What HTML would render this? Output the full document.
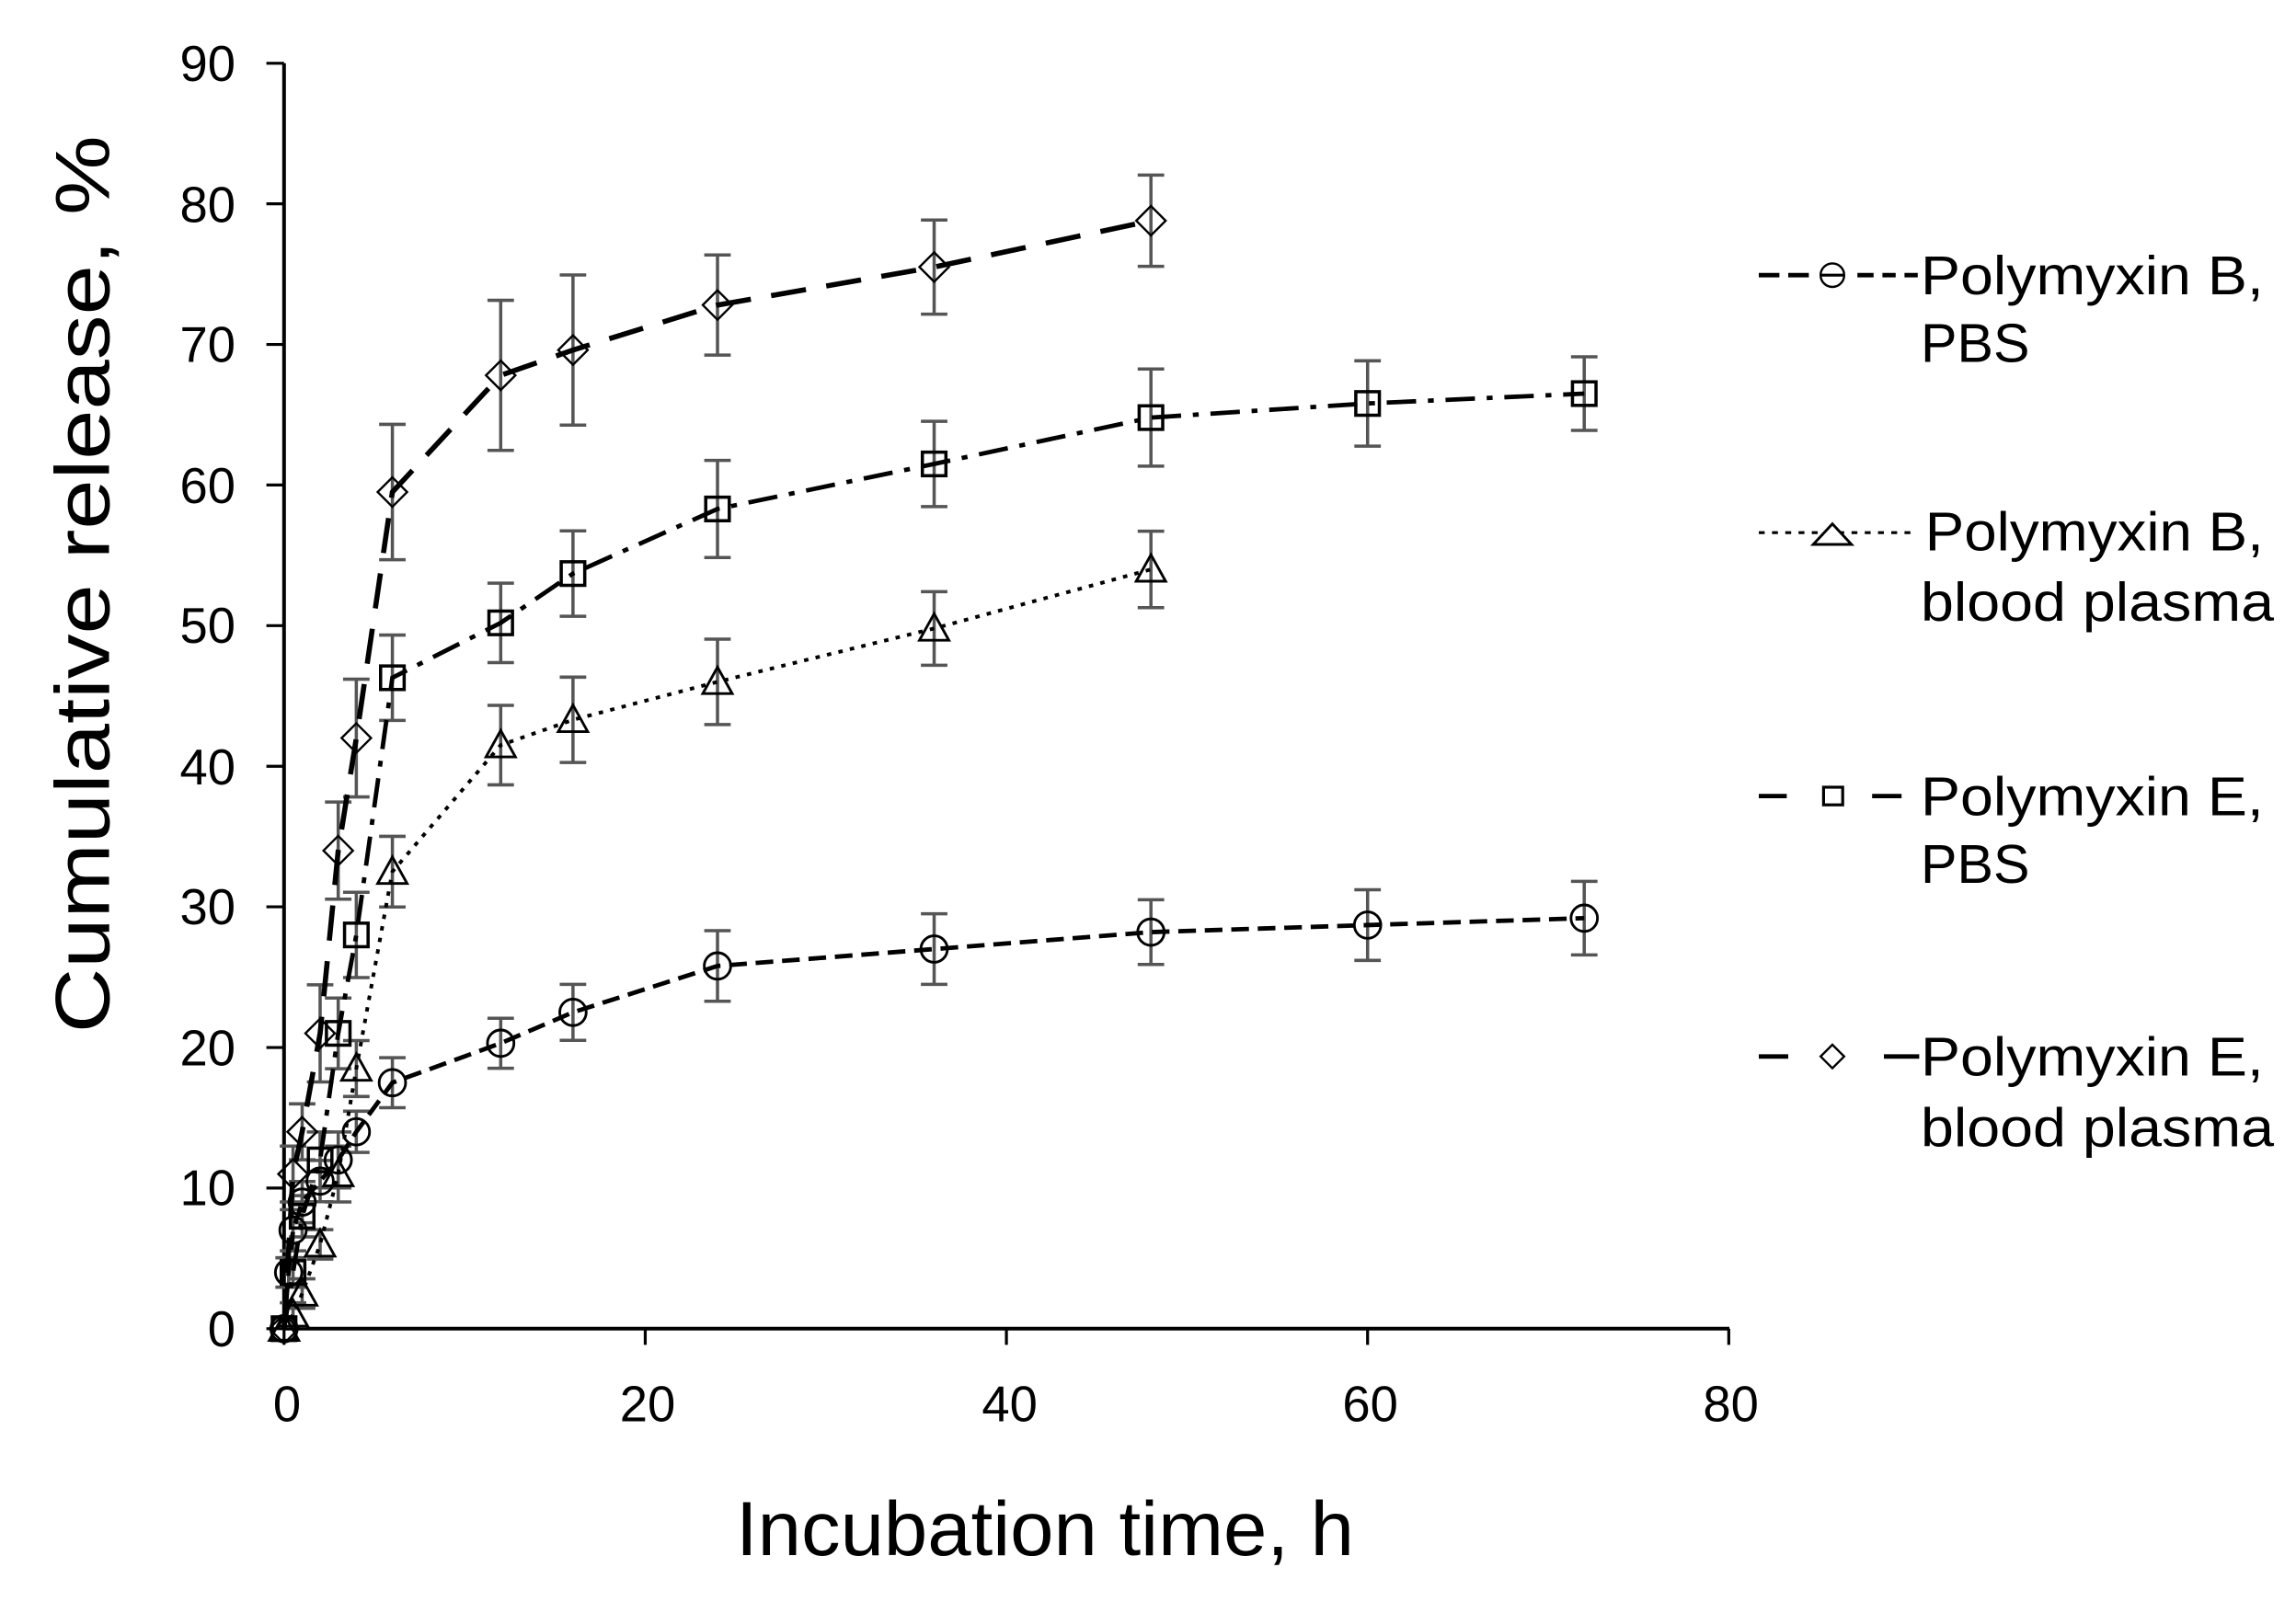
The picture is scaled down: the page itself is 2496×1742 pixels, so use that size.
<!DOCTYPE html>
<html><head><meta charset="utf-8"><style>html,body{margin:0;padding:0;background:#fff}svg{display:block}</style></head>
<body>
<svg width="2496" height="1742" viewBox="0 0 1560 1088.75" xmlns="http://www.w3.org/2000/svg" xmlns:xlink="http://www.w3.org/1999/xlink" font-family="Liberation Sans, Arial, sans-serif">
<defs>
<circle id="mc" r="9" fill="none" stroke="#000" stroke-width="1.8"/>
<path id="mt" d="M-10,8L0,-10L10,8Z" fill="none" stroke="#000" stroke-width="1.8"/>
<rect id="ms" x="-8" y="-8" width="16" height="16" fill="none" stroke="#000" stroke-width="2.2"/>
<path id="md" d="M0,-10L10,0L0,10L-10,0Z" fill="none" stroke="#000" stroke-width="1.5"/>
</defs>
<rect width="1560" height="1089" fill="#fff"/>
<g stroke="#000" stroke-width="2.5" fill="none">
<line x1="193" y1="43" x2="193" y2="904"/>
<line x1="192" y1="903" x2="1175" y2="903"/>
</g>
<g stroke="#000" stroke-width="2">
<line x1="181" y1="903" x2="193" y2="903"/><line x1="181" y1="807.4" x2="193" y2="807.4"/><line x1="181" y1="711.9" x2="193" y2="711.9"/><line x1="181" y1="616.3" x2="193" y2="616.3"/><line x1="181" y1="520.8" x2="193" y2="520.8"/><line x1="181" y1="425.2" x2="193" y2="425.2"/><line x1="181" y1="329.6" x2="193" y2="329.6"/><line x1="181" y1="234.1" x2="193" y2="234.1"/><line x1="181" y1="138.5" x2="193" y2="138.5"/><line x1="181" y1="43" x2="193" y2="43"/>
<line x1="193" y1="903" x2="193" y2="914"/><line x1="438.4" y1="903" x2="438.4" y2="914"/><line x1="683.8" y1="903" x2="683.8" y2="914"/><line x1="929.2" y1="903" x2="929.2" y2="914"/><line x1="1174.6" y1="903" x2="1174.6" y2="914"/>
</g>
<g font-size="34" text-anchor="end" fill="#000">
<text x="160" y="915">0</text><text x="160" y="819">10</text><text x="160" y="724">20</text><text x="160" y="628">30</text><text x="160" y="533">40</text><text x="160" y="437">50</text><text x="160" y="342">60</text><text x="160" y="246">70</text><text x="160" y="151">80</text><text x="160" y="55">90</text>
</g>
<g font-size="34" text-anchor="middle">
<text x="195" y="966">0</text><text x="440" y="966">20</text><text x="686" y="966">40</text><text x="931" y="966">60</text><text x="1176" y="966">80</text>
</g>
<text x="500" y="1057" font-size="52" textLength="420" lengthAdjust="spacingAndGlyphs">Incubation time, h</text>
<text transform="translate(74,702) rotate(-90)" font-size="52" textLength="610" lengthAdjust="spacingAndGlyphs">Cumulative release, %</text>

<g stroke="#555" stroke-width="2.2" fill="none">
<path d="M196.1,854.8V874.8M187.1,854.8h18M187.1,874.8h18M199.1,822.1V850.1M190.1,822.1h18M190.1,850.1h18M205.3,803V831M196.3,803h18M196.3,831h18M217.5,788.7V816.7M208.5,788.7h18M208.5,816.7h18M229.8,769.3V807.3M220.8,769.3h18M220.8,807.3h18M242.1,755.2V783.2M233.1,755.2h18M233.1,783.2h18M266.6,718.8V752.8M257.6,718.8h18M257.6,752.8h18M340.2,692V726M331.2,692h18M331.2,726h18M389.3,669V707M380.3,669h18M380.3,707h18M487.5,632.5V680.5M478.5,632.5h18M478.5,680.5h18M634.7,621V669M625.7,621h18M625.7,669h18M782,611.5V655.5M773,611.5h18M773,655.5h18M929.2,604.7V652.7M920.2,604.7h18M920.2,652.7h18M1076.4,599V649M1067.4,599h18M1067.4,649h18"/>
<path d="M199.1,885.4V901.4M190.1,885.4h18M190.1,901.4h18M205.3,869.1V889.1M196.3,869.1h18M196.3,889.1h18M217.5,835.7V855.7M208.5,835.7h18M208.5,855.7h18M229.8,778.9V816.9M220.8,778.9h18M220.8,816.9h18M242.1,707.2V745.2M233.1,707.2h18M233.1,745.2h18M266.6,568.4V616.4M257.6,568.4h18M257.6,616.4h18M340.2,479.4V533.4M331.2,479.4h18M331.2,533.4h18M389.3,460.2V518.2M380.3,460.2h18M380.3,518.2h18M487.5,434.4V492.4M478.5,434.4h18M478.5,492.4h18M634.7,402.1V452.1M625.7,402.1h18M625.7,452.1h18M782,361V413M773,361h18M773,413h18"/>
<path d="M199.1,854.8V874.8M190.1,854.8h18M190.1,874.8h18M205.3,812.6V840.6M196.3,812.6h18M196.3,840.6h18M217.5,769.3V807.3M208.5,769.3h18M208.5,807.3h18M229.8,678.3V726.3M220.8,678.3h18M220.8,726.3h18M242.1,606.4V664.4M233.1,606.4h18M233.1,664.4h18M266.6,431.6V489.6M257.6,431.6h18M257.6,489.6h18M340.2,396.3V450.3M331.2,396.3h18M331.2,450.3h18M389.3,360.8V418.8M380.3,360.8h18M380.3,418.8h18M487.5,312.9V378.9M478.5,312.9h18M478.5,378.9h18M634.7,286.3V344.3M625.7,286.3h18M625.7,344.3h18M782,250.8V316.8M773,250.8h18M773,316.8h18M929.2,245.2V303.2M920.2,245.2h18M920.2,303.2h18M1076.4,242.5V292.5M1067.4,242.5h18M1067.4,292.5h18"/>
<path d="M199.1,778.9V816.9M190.1,778.9h18M190.1,816.9h18M205.3,750.2V788.2M196.3,750.2h18M196.3,788.2h18M217.5,669.3V735.3M208.5,669.3h18M208.5,735.3h18M229.8,545.1V611.1M220.8,545.1h18M220.8,611.1h18M242.1,461.6V541.6M233.1,461.6h18M233.1,541.6h18M266.6,288.4V380.4M257.6,288.4h18M257.6,380.4h18M340.2,204.1V306.1M331.2,204.1h18M331.2,306.1h18M389.3,186.9V288.9M380.3,186.9h18M380.3,288.9h18M487.5,173.3V241.3M478.5,173.3h18M478.5,241.3h18M634.7,149.5V213.5M625.7,149.5h18M625.7,213.5h18M782,119V181M773,119h18M773,181h18"/>
</g>

<g fill="none" stroke="#000">
<polyline stroke-width="3" stroke-dasharray="12,6" points="193,903 196.1,864.8 199.1,836.1 205.3,817 217.5,802.7 229.8,788.3 242.1,769.2 266.6,735.8 340.2,709 389.3,688 487.5,656.5 634.7,645 782,633.5 929.2,628.7 1076.4,624"/>
<polyline stroke-width="2.5" stroke-dasharray="3,5" points="193,903 199.1,893.4 205.3,879.1 217.5,845.7 229.8,797.9 242.1,726.2 266.6,592.4 340.2,506.4 389.3,489.2 487.5,463.4 634.7,427.1 782,387"/>
<polyline stroke-width="3" stroke-dasharray="20,8,4,8" points="193,903 199.1,864.8 205.3,826.6 217.5,788.3 229.8,702.3 242.1,635.4 266.6,460.6 340.2,423.3 389.3,389.8 487.5,345.9 634.7,315.3 782,283.8 929.2,274.2 1076.4,267.5"/>
<polyline stroke-width="3.5" stroke-dasharray="24,14" points="193,903 199.1,797.9 205.3,769.2 217.5,702.3 229.8,578.1 242.1,501.6 266.6,334.4 340.2,255.1 389.3,237.9 487.5,207.3 634.7,181.5 782,150"/>
</g>

<use xlink:href="#mc" x="193" y="903"/><use xlink:href="#mc" x="196.1" y="864.8"/><use xlink:href="#mc" x="199.1" y="836.1"/><use xlink:href="#mc" x="205.3" y="817"/><use xlink:href="#mc" x="217.5" y="802.7"/><use xlink:href="#mc" x="229.8" y="788.3"/><use xlink:href="#mc" x="242.1" y="769.2"/><use xlink:href="#mc" x="266.6" y="735.8"/><use xlink:href="#mc" x="340.2" y="709"/><use xlink:href="#mc" x="389.3" y="688"/><use xlink:href="#mc" x="487.5" y="656.5"/><use xlink:href="#mc" x="634.7" y="645"/><use xlink:href="#mc" x="782" y="633.5"/><use xlink:href="#mc" x="929.2" y="628.7"/><use xlink:href="#mc" x="1076.4" y="624"/>
<use xlink:href="#mt" x="193" y="903"/><use xlink:href="#mt" x="199.1" y="893.4"/><use xlink:href="#mt" x="205.3" y="879.1"/><use xlink:href="#mt" x="217.5" y="845.7"/><use xlink:href="#mt" x="229.8" y="797.9"/><use xlink:href="#mt" x="242.1" y="726.2"/><use xlink:href="#mt" x="266.6" y="592.4"/><use xlink:href="#mt" x="340.2" y="506.4"/><use xlink:href="#mt" x="389.3" y="489.2"/><use xlink:href="#mt" x="487.5" y="463.4"/><use xlink:href="#mt" x="634.7" y="427.1"/><use xlink:href="#mt" x="782" y="387"/>
<use xlink:href="#ms" x="193" y="903"/><use xlink:href="#ms" x="199.1" y="864.8"/><use xlink:href="#ms" x="205.3" y="826.6"/><use xlink:href="#ms" x="217.5" y="788.3"/><use xlink:href="#ms" x="229.8" y="702.3"/><use xlink:href="#ms" x="242.1" y="635.4"/><use xlink:href="#ms" x="266.6" y="460.6"/><use xlink:href="#ms" x="340.2" y="423.3"/><use xlink:href="#ms" x="389.3" y="389.8"/><use xlink:href="#ms" x="487.5" y="345.9"/><use xlink:href="#ms" x="634.7" y="315.3"/><use xlink:href="#ms" x="782" y="283.8"/><use xlink:href="#ms" x="929.2" y="274.2"/><use xlink:href="#ms" x="1076.4" y="267.5"/>
<use xlink:href="#md" x="193" y="903"/><use xlink:href="#md" x="199.1" y="797.9"/><use xlink:href="#md" x="205.3" y="769.2"/><use xlink:href="#md" x="217.5" y="702.3"/><use xlink:href="#md" x="229.8" y="578.1"/><use xlink:href="#md" x="242.1" y="501.6"/><use xlink:href="#md" x="266.6" y="334.4"/><use xlink:href="#md" x="340.2" y="255.1"/><use xlink:href="#md" x="389.3" y="237.9"/><use xlink:href="#md" x="487.5" y="207.3"/><use xlink:href="#md" x="634.7" y="181.5"/><use xlink:href="#md" x="782" y="150"/>

<g font-size="37">
<text x="1305" y="200" textLength="233" lengthAdjust="spacingAndGlyphs">Polymyxin B,</text><text x="1305" y="246">PBS</text>
<text x="1308" y="374" textLength="230" lengthAdjust="spacingAndGlyphs">Polymyxin B,</text><text x="1305" y="422" textLength="240" lengthAdjust="spacingAndGlyphs">blood plasma</text>
<text x="1305" y="554" textLength="233" lengthAdjust="spacingAndGlyphs">Polymyxin E,</text><text x="1305" y="600">PBS</text>
<text x="1305" y="731" textLength="233" lengthAdjust="spacingAndGlyphs">Polymyxin E,</text><text x="1305" y="779" textLength="240" lengthAdjust="spacingAndGlyphs">blood plasma</text>
</g>
<g stroke="#000" fill="none">
<path d="M1195,187h14M1215,187h14M1262,187h11M1279,187h9M1294,187h9" stroke-width="3"/>
<circle cx="1245" cy="187" r="8" stroke-width="1.5"/>
<path d="M1237,187h16" stroke-width="2"/>
<line x1="1195" y1="362" x2="1300" y2="362" stroke-width="2" stroke-dasharray="4,5"/>
<path d="M1232,370 L1245,356 L1258,370 Z" fill="#fff" stroke-width="1.8"/>
<path d="M1195,541h19M1272,541h20" stroke-width="3"/>
<rect x="1239" y="535" width="13" height="12" stroke-width="2"/>
<path d="M1195,718h20M1280,718h24" stroke-width="3"/>
<path d="M1245,710 L1253,718 L1245,726 L1237,718 Z" stroke-width="1.5"/>
</g>
</svg>
</body></html>
